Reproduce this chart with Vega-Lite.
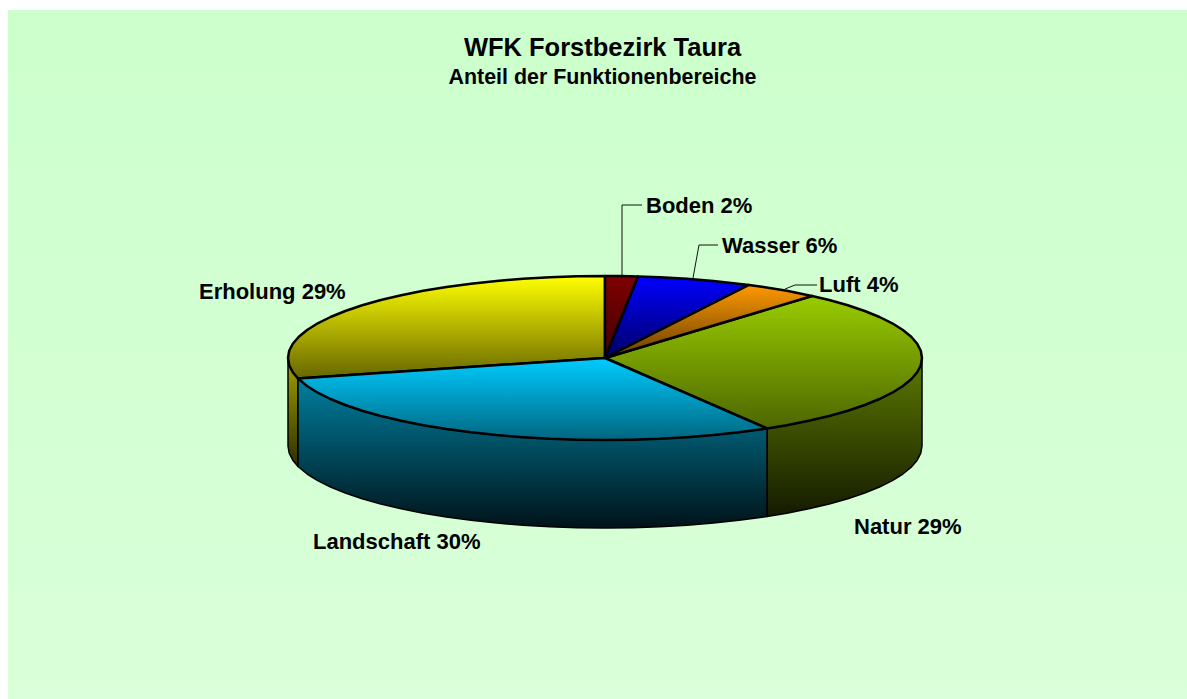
{"$schema":"https://vega.github.io/schema/vega-lite/v6.json","width":1187,"height":699,"padding":0,"autosize":{"type":"none"},"background":"#ffffff","config":{"view":{"stroke":null}},
"title":{"text":"WFK Forstbezirk Taura","subtitle":"Anteil der Funktionenbereiche","font":"Liberation Sans","fontWeight":"bold","fontSize":25.5,"color":"#000","subtitleFont":"Liberation Sans","subtitleFontWeight":"bold","subtitleFontSize":21.4,"subtitleColor":"#000","subtitlePadding":5,"anchor":"middle","frame":"group","offset":0,"dx":9,"dy":88},
"datasets":{"panel":[{"x":-597,"x2":582,"y":348,"y2":-341}],
"labels":[{"label":"Boden 2%","x":41,"y":152.5},{"label":"Wasser 6%","x":117,"y":112.5},{"label":"Luft 4%","x":214,"y":73},{"label":"Natur 29%","x":249,"y":-169},{"label":"Landschaft 30%","x":-292,"y":-184},{"label":"Erholung 29%","x":-406,"y":66.5}],
"outline":[
{"p":"wE","i":0,"x":-307,"y":-20.5},{"p":"wE","i":1,"x":-312.2,"y":-14.2},{"p":"wE","i":2,"x":-315.8,"y":-7.2},{"p":"wE","i":3,"x":-317,"y":0},{"p":"wE","i":4,"x":-317,"y":-88},{"p":"wE","i":5,"x":-315.8,"y":-95.2},{"p":"wE","i":6,"x":-312.2,"y":-102.2},{"p":"wE","i":7,"x":-307,"y":-108.5},{"p":"wE","i":8,"x":-307,"y":-20.5},
{"p":"wN","i":0,"x":317,"y":0},{"p":"wN","i":1,"x":315.8,"y":-7.2},{"p":"wN","i":2,"x":312.2,"y":-14.2},{"p":"wN","i":3,"x":306.2,"y":-21.2},{"p":"wN","i":4,"x":297.9,"y":-28},{"p":"wN","i":5,"x":287.3,"y":-34.7},{"p":"wN","i":6,"x":274.5,"y":-41},{"p":"wN","i":7,"x":259.7,"y":-47},{"p":"wN","i":8,"x":242.8,"y":-52.7},{"p":"wN","i":9,"x":224.2,"y":-58},{"p":"wN","i":10,"x":203.8,"y":-62.8},{"p":"wN","i":11,"x":181.8,"y":-67.2},{"p":"wN","i":12,"x":162,"y":-70.5},{"p":"wN","i":13,"x":162,"y":-158.5},{"p":"wN","i":14,"x":181.8,"y":-155.2},{"p":"wN","i":15,"x":203.8,"y":-150.8},{"p":"wN","i":16,"x":224.2,"y":-146},{"p":"wN","i":17,"x":242.8,"y":-140.7},{"p":"wN","i":18,"x":259.7,"y":-135},{"p":"wN","i":19,"x":274.5,"y":-129},{"p":"wN","i":20,"x":287.3,"y":-122.7},{"p":"wN","i":21,"x":297.9,"y":-116},{"p":"wN","i":22,"x":306.2,"y":-109.2},{"p":"wN","i":23,"x":312.2,"y":-102.2},{"p":"wN","i":24,"x":315.8,"y":-95.2},{"p":"wN","i":25,"x":317,"y":-88},{"p":"wN","i":26,"x":317,"y":0},
{"p":"wL","i":0,"x":162,"y":-70.5},{"p":"wL","i":1,"x":134,"y":-74.3},{"p":"wL","i":2,"x":108.4,"y":-77.1},{"p":"wL","i":3,"x":82,"y":-79.2},{"p":"wL","i":4,"x":55,"y":-80.8},{"p":"wL","i":5,"x":27.6,"y":-81.7},{"p":"wL","i":6,"x":0,"y":-82},{"p":"wL","i":7,"x":-27.6,"y":-81.7},{"p":"wL","i":8,"x":-55,"y":-80.8},{"p":"wL","i":9,"x":-82,"y":-79.2},{"p":"wL","i":10,"x":-108.4,"y":-77.1},{"p":"wL","i":11,"x":-134,"y":-74.3},{"p":"wL","i":12,"x":-158.5,"y":-71},{"p":"wL","i":13,"x":-181.8,"y":-67.2},{"p":"wL","i":14,"x":-203.8,"y":-62.8},{"p":"wL","i":15,"x":-224.2,"y":-58},{"p":"wL","i":16,"x":-242.8,"y":-52.7},{"p":"wL","i":17,"x":-259.7,"y":-47},{"p":"wL","i":18,"x":-274.5,"y":-41},{"p":"wL","i":19,"x":-287.3,"y":-34.7},{"p":"wL","i":20,"x":-297.9,"y":-28},{"p":"wL","i":21,"x":-307,"y":-20.5},{"p":"wL","i":22,"x":-307,"y":-108.5},{"p":"wL","i":23,"x":-297.9,"y":-116},{"p":"wL","i":24,"x":-287.3,"y":-122.7},{"p":"wL","i":25,"x":-274.5,"y":-129},{"p":"wL","i":26,"x":-259.7,"y":-135},{"p":"wL","i":27,"x":-242.8,"y":-140.7},{"p":"wL","i":28,"x":-224.2,"y":-146},{"p":"wL","i":29,"x":-203.8,"y":-150.8},{"p":"wL","i":30,"x":-181.8,"y":-155.2},{"p":"wL","i":31,"x":-158.5,"y":-159},{"p":"wL","i":32,"x":-134,"y":-162.3},{"p":"wL","i":33,"x":-108.4,"y":-165.1},{"p":"wL","i":34,"x":-82,"y":-167.2},{"p":"wL","i":35,"x":-55,"y":-168.8},{"p":"wL","i":36,"x":-27.6,"y":-169.7},{"p":"wL","i":37,"x":0,"y":-170},{"p":"wL","i":38,"x":27.6,"y":-169.7},{"p":"wL","i":39,"x":55,"y":-168.8},{"p":"wL","i":40,"x":82,"y":-167.2},{"p":"wL","i":41,"x":108.4,"y":-165.1},{"p":"wL","i":42,"x":134,"y":-162.3},{"p":"wL","i":43,"x":162,"y":-158.5},{"p":"wL","i":44,"x":162,"y":-70.5},
{"p":"E","i":0,"x":0,"y":0},{"p":"E","i":1,"x":-307,"y":-20.5},{"p":"E","i":2,"x":-312.2,"y":-14.2},{"p":"E","i":3,"x":-315.8,"y":-7.2},{"p":"E","i":4,"x":-317,"y":0},{"p":"E","i":5,"x":-315.8,"y":7.2},{"p":"E","i":6,"x":-312.2,"y":14.2},{"p":"E","i":7,"x":-306.2,"y":21.2},{"p":"E","i":8,"x":-297.9,"y":28},{"p":"E","i":9,"x":-287.3,"y":34.7},{"p":"E","i":10,"x":-274.5,"y":41},{"p":"E","i":11,"x":-259.7,"y":47},{"p":"E","i":12,"x":-242.8,"y":52.7},{"p":"E","i":13,"x":-224.2,"y":58},{"p":"E","i":14,"x":-203.8,"y":62.8},{"p":"E","i":15,"x":-181.8,"y":67.2},{"p":"E","i":16,"x":-158.5,"y":71},{"p":"E","i":17,"x":-134,"y":74.3},{"p":"E","i":18,"x":-108.4,"y":77.1},{"p":"E","i":19,"x":-82,"y":79.2},{"p":"E","i":20,"x":-55,"y":80.8},{"p":"E","i":21,"x":-27.6,"y":81.7},{"p":"E","i":22,"x":0,"y":82},{"p":"E","i":23,"x":0,"y":0},
{"p":"L","i":0,"x":0,"y":0},{"p":"L","i":1,"x":162,"y":-70.5},{"p":"L","i":2,"x":134,"y":-74.3},{"p":"L","i":3,"x":108.4,"y":-77.1},{"p":"L","i":4,"x":82,"y":-79.2},{"p":"L","i":5,"x":55,"y":-80.8},{"p":"L","i":6,"x":27.6,"y":-81.7},{"p":"L","i":7,"x":0,"y":-82},{"p":"L","i":8,"x":-27.6,"y":-81.7},{"p":"L","i":9,"x":-55,"y":-80.8},{"p":"L","i":10,"x":-82,"y":-79.2},{"p":"L","i":11,"x":-108.4,"y":-77.1},{"p":"L","i":12,"x":-134,"y":-74.3},{"p":"L","i":13,"x":-158.5,"y":-71},{"p":"L","i":14,"x":-181.8,"y":-67.2},{"p":"L","i":15,"x":-203.8,"y":-62.8},{"p":"L","i":16,"x":-224.2,"y":-58},{"p":"L","i":17,"x":-242.8,"y":-52.7},{"p":"L","i":18,"x":-259.7,"y":-47},{"p":"L","i":19,"x":-274.5,"y":-41},{"p":"L","i":20,"x":-287.3,"y":-34.7},{"p":"L","i":21,"x":-297.9,"y":-28},{"p":"L","i":22,"x":-307,"y":-20.5},{"p":"L","i":23,"x":0,"y":0},
{"p":"N","i":0,"x":0,"y":0},{"p":"N","i":1,"x":207,"y":62},{"p":"N","i":2,"x":224.2,"y":58},{"p":"N","i":3,"x":242.8,"y":52.7},{"p":"N","i":4,"x":259.7,"y":47},{"p":"N","i":5,"x":274.5,"y":41},{"p":"N","i":6,"x":287.3,"y":34.7},{"p":"N","i":7,"x":297.9,"y":28},{"p":"N","i":8,"x":306.2,"y":21.2},{"p":"N","i":9,"x":312.2,"y":14.2},{"p":"N","i":10,"x":315.8,"y":7.2},{"p":"N","i":11,"x":317,"y":0},{"p":"N","i":12,"x":315.8,"y":-7.2},{"p":"N","i":13,"x":312.2,"y":-14.2},{"p":"N","i":14,"x":306.2,"y":-21.2},{"p":"N","i":15,"x":297.9,"y":-28},{"p":"N","i":16,"x":287.3,"y":-34.7},{"p":"N","i":17,"x":274.5,"y":-41},{"p":"N","i":18,"x":259.7,"y":-47},{"p":"N","i":19,"x":242.8,"y":-52.7},{"p":"N","i":20,"x":224.2,"y":-58},{"p":"N","i":21,"x":203.8,"y":-62.8},{"p":"N","i":22,"x":181.8,"y":-67.2},{"p":"N","i":23,"x":162,"y":-70.5},{"p":"N","i":24,"x":0,"y":0},
{"p":"B","i":0,"x":0,"y":0},{"p":"B","i":1,"x":0,"y":82},{"p":"B","i":2,"x":16,"y":81.9},{"p":"B","i":3,"x":33,"y":81.5},{"p":"B","i":4,"x":0,"y":0},
{"p":"W","i":0,"x":0,"y":0},{"p":"W","i":1,"x":33,"y":81.5},{"p":"W","i":2,"x":55,"y":80.8},{"p":"W","i":3,"x":82,"y":79.2},{"p":"W","i":4,"x":108.4,"y":77.1},{"p":"W","i":5,"x":144,"y":73.1},{"p":"W","i":6,"x":0,"y":0},
{"p":"A","i":0,"x":0,"y":0},{"p":"A","i":1,"x":144,"y":73.1},{"p":"A","i":2,"x":158.5,"y":71},{"p":"A","i":3,"x":181.8,"y":67.2},{"p":"A","i":4,"x":207,"y":62},{"p":"A","i":5,"x":0,"y":0},
{"p":"lB","i":0,"x":17,"y":82.5},{"p":"lB","i":1,"x":17,"y":153},{"p":"lB","i":2,"x":37,"y":153},
{"p":"lW","i":0,"x":88,"y":80},{"p":"lW","i":1,"x":94,"y":113},{"p":"lW","i":2,"x":113,"y":113},
{"p":"lA","i":0,"x":180,"y":69},{"p":"lA","i":1,"x":190,"y":73},{"p":"lA","i":2,"x":212,"y":73}
]},
"encoding":{"x":{"field":"x","type":"quantitative","axis":null,"scale":{"domain":[-605,582],"nice":false,"zero":false}},"y":{"field":"y","type":"quantitative","axis":null,"scale":{"domain":[-341,358],"nice":false,"zero":false}}},
"layer":[
{"data":{"name":"panel"},"mark":{"type":"rect","fill":{"gradient":"linear","x1":0,"y1":0,"x2":0,"y2":1,"stops":[{"offset":0,"color":"#CCFFCC"},{"offset":1,"color":"#DAFFDA"}]}},"encoding":{"x2":{"field":"x2"},"y2":{"field":"y2"}}},
{"data":{"name":"outline"},"transform":[{"filter":"datum.p==='wE'"}],"mark":{"type":"line","fill":{"gradient":"linear","x1":0,"y1":0,"x2":0,"y2":1,"stops":[{"offset":0,"color":"#A3A300"},{"offset":1,"color":"#2E2E00"}]},"stroke":"#000","strokeWidth":1.5,"strokeJoin":"round"},"encoding":{"order":{"field":"i"}}},
{"data":{"name":"outline"},"transform":[{"filter":"datum.p==='wN'"}],"mark":{"type":"line","fill":{"gradient":"linear","x1":0,"y1":0,"x2":0,"y2":1,"stops":[{"offset":0,"color":"#5C7A00"},{"offset":1,"color":"#141A00"}]},"stroke":"#000","strokeWidth":1.5,"strokeJoin":"round"},"encoding":{"order":{"field":"i"}}},
{"data":{"name":"outline"},"transform":[{"filter":"datum.p==='wL'"}],"mark":{"type":"line","fill":{"gradient":"linear","x1":0,"y1":0,"x2":0,"y2":1,"stops":[{"offset":0,"color":"#007F9F"},{"offset":1,"color":"#001319"}]},"stroke":"#000","strokeWidth":1.5,"strokeJoin":"round"},"encoding":{"order":{"field":"i"}}},
{"data":{"name":"outline"},"transform":[{"filter":"datum.p==='E'"}],"mark":{"type":"line","fill":{"gradient":"linear","x1":0,"y1":0,"x2":0,"y2":1,"stops":[{"offset":0,"color":"#FFFF00"},{"offset":1,"color":"#666600"}]},"stroke":"#000","strokeWidth":2.5,"strokeJoin":"round"},"encoding":{"order":{"field":"i"}}},
{"data":{"name":"outline"},"transform":[{"filter":"datum.p==='N'"}],"mark":{"type":"line","fill":{"gradient":"linear","x1":0,"y1":0,"x2":0,"y2":1,"stops":[{"offset":0,"color":"#99CC00"},{"offset":1,"color":"#4D6600"}]},"stroke":"#000","strokeWidth":2.5,"strokeJoin":"round"},"encoding":{"order":{"field":"i"}}},
{"data":{"name":"outline"},"transform":[{"filter":"datum.p==='L'"}],"mark":{"type":"line","fill":{"gradient":"linear","x1":0,"y1":0,"x2":0,"y2":1,"stops":[{"offset":0,"color":"#00CCFF"},{"offset":1,"color":"#006680"}]},"stroke":"#000","strokeWidth":2.5,"strokeJoin":"round"},"encoding":{"order":{"field":"i"}}},
{"data":{"name":"outline"},"transform":[{"filter":"datum.p==='B'"}],"mark":{"type":"line","fill":{"gradient":"linear","x1":0,"y1":0,"x2":0,"y2":1,"stops":[{"offset":0,"color":"#800000"},{"offset":1,"color":"#400000"}]},"stroke":"#000","strokeWidth":2.5,"strokeJoin":"round"},"encoding":{"order":{"field":"i"}}},
{"data":{"name":"outline"},"transform":[{"filter":"datum.p==='W'"}],"mark":{"type":"line","fill":{"gradient":"linear","x1":0,"y1":0,"x2":0,"y2":1,"stops":[{"offset":0,"color":"#0000FF"},{"offset":1,"color":"#000066"}]},"stroke":"#000","strokeWidth":2.5,"strokeJoin":"round"},"encoding":{"order":{"field":"i"}}},
{"data":{"name":"outline"},"transform":[{"filter":"datum.p==='A'"}],"mark":{"type":"line","fill":{"gradient":"linear","x1":0,"y1":0,"x2":0,"y2":1,"stops":[{"offset":0,"color":"#FF9900"},{"offset":1,"color":"#663D00"}]},"stroke":"#000","strokeWidth":2.5,"strokeJoin":"round"},"encoding":{"order":{"field":"i"}}},
{"data":{"name":"outline"},"transform":[{"filter":"datum.p==='lB'||datum.p==='lW'||datum.p==='lA'"}],"mark":{"type":"line","stroke":"#111","strokeWidth":1},"encoding":{"detail":{"field":"p"},"order":{"field":"i"}}},
{"data":{"name":"labels"},"mark":{"type":"text","align":"left","baseline":"middle","font":"Liberation Sans","fontWeight":"bold","fontSize":22,"color":"#000"},"encoding":{"text":{"field":"label"}}}
]}
